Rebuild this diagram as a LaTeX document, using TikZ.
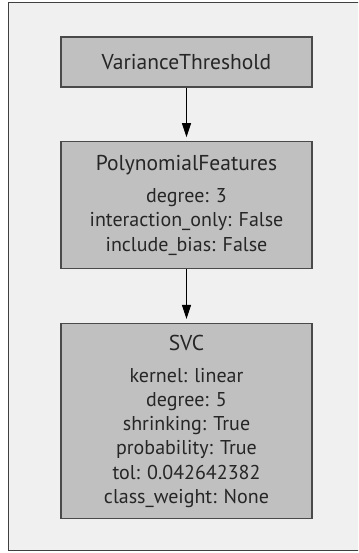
\documentclass[tikz,border=0pt]{standalone}
\usepackage{fontspec}
\setmainfont{PT Sans}
\usetikzlibrary{positioning,arrows.meta}
\definecolor{panelgray}{HTML}{F0F0F0}
\definecolor{boxgray}{HTML}{C0C0C0}
\definecolor{edgegray}{HTML}{4A4A4A}

\begin{document}
\begin{tikzpicture}[x=1pt,y=-1pt,
	stepbox/.style={draw=edgegray,line width=1.3pt,fill=boxgray,minimum width=251pt,align=center,text=black!85,font=\fontsize{20}{24.2}\selectfont},
	flow/.style={-{Triangle[length=14pt,width=9pt]},line width=0.9pt,shorten >=4pt},
	node distance=53.5pt]
	% draw background panel
	\clip (0,0) rectangle (358,553);
	\draw[fill=panelgray,draw=black!75,line width=0.9pt] (8,2) rectangle (380,550);
	% draw pipeline steps
	\node[stepbox,minimum height=50pt] (variance) at (186.5,62) {{\fontsize{21.5}{24}\selectfont VarianceThreshold}};
	\node[stepbox,minimum height=127pt,below=of variance] (poly) {{\fontsize{21.5}{24}\selectfont PolynomialFeatures}\\[8pt]
		degree: 3\\
		interaction\_only: False\\
		include\_bias: False};
	\node[stepbox,minimum height=195pt,below=of poly] (svc) {{\fontsize{21.5}{24}\selectfont SVC}\\[8pt]
		kernel: linear\\
		degree: 5\\
		shrinking: True\\
		probability: True\\
		tol: 0.042642382\\
		class\_weight: None};
	% draw connections
	\draw[flow] (variance) -- (poly);
	\draw[flow] (poly) -- (svc);
\end{tikzpicture}
\end{document}
